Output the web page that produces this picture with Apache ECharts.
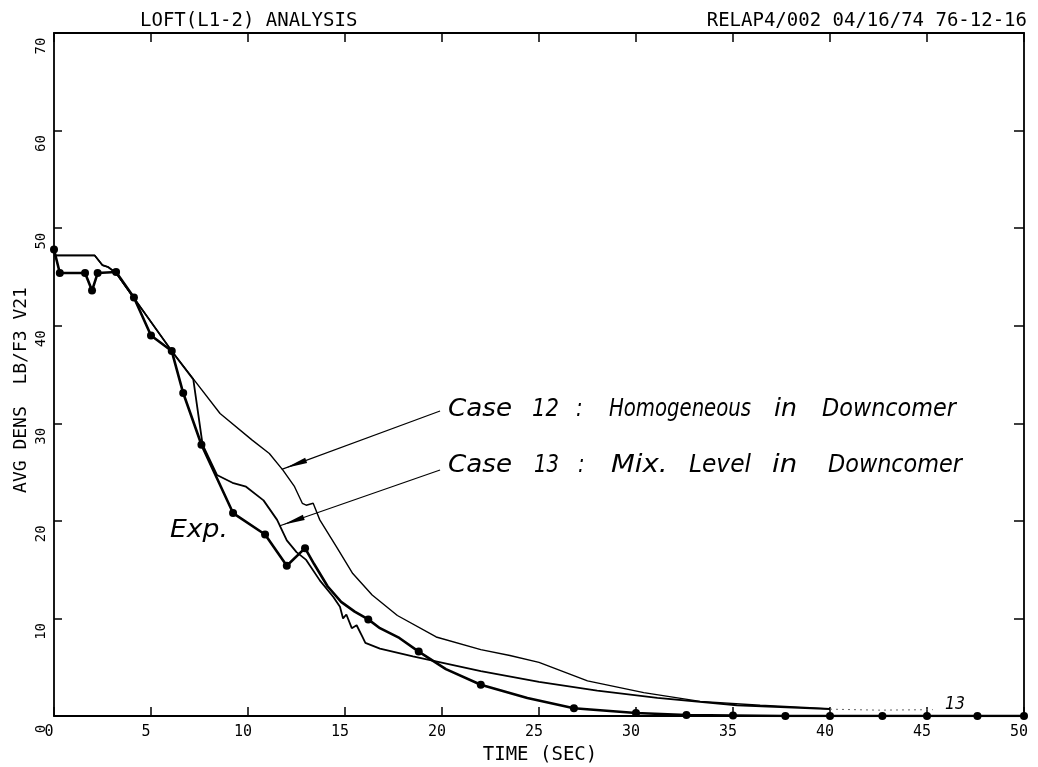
<!DOCTYPE html>
<html><head><meta charset="utf-8">
<script src="https://cdn.jsdelivr.net/npm/echarts@6/dist/echarts.min.js"></script>
<style>html,body{margin:0;padding:0;background:#fff}#c{width:1038px;height:767px}</style>
</head><body><div id="c"></div>
<script>
// ---------------- data ----------------
const xTickLabels = ['0','5','10','15','20','25','30','35','40','45','50'];
const yTickLabels = ['0','10','20','30','40','50','60','70'];

const expTime = [0, 0.3, 1.6, 1.96, 2.25, 3.2, 4.12, 5.0, 6.07, 6.66, 7.6, 9.23, 10.88, 12.0, 12.94, 13.4, 14.1, 14.8, 15.5, 16.2, 16.8, 17.8, 18.8, 20.2, 22.0, 24.4, 26.8, 30.0, 32.6, 35.0, 37.7, 40.0, 42.7, 45.0, 47.6, 50.0];
const expDens = [47.8, 45.4, 45.4, 43.6, 45.4, 45.5, 42.9, 39.0, 37.4, 33.1, 27.8, 20.8, 18.6, 15.4, 17.2, 15.6, 13.3, 11.7, 10.7, 9.9, 9.0, 8.0, 6.6, 4.8, 3.2, 1.85, 0.8, 0.3, 0.1, 0.05, 0, 0, 0, 0, 0, 0];
const expMarked = [1,1,1,1,1,1,1,1,1,1,1,1,1,1,1,0,0,0,0,1,0,0,1,0,1,0,1,1,1,1,1,1,1,1,1,1];

const case12Time = [0, 2.1, 2.5, 2.8, 3.2, 6.07, 7.2, 8.56, 10.2, 11.1, 11.8, 12.4, 12.8, 13.0, 13.36, 13.7, 14.57, 15.4, 16.4, 17.7, 19.7, 22.0, 23.5, 25.0, 27.5, 30.4, 33.3, 36.4, 40.0];
const case12Dens = [47.2, 47.2, 46.2, 46.0, 45.4, 37.4, 34.5, 31.0, 28.3, 26.9, 25.2, 23.5, 21.8, 21.6, 21.8, 20.1, 17.3, 14.6, 12.4, 10.3, 8.1, 6.8, 6.2, 5.5, 3.6, 2.4, 1.5, 1.1, 0.75];

const case13Time = [0, 2.1, 2.5, 2.8, 3.2, 6.07, 7.18, 7.66, 8.4, 9.2, 9.9, 10.8, 11.5, 12.0, 12.5, 13.0, 13.7, 14.4, 14.74, 14.9, 15.07, 15.35, 15.6, 15.9, 16.05, 16.8, 18.5, 22.0, 25.0, 28.0, 31.1, 35.2, 40.0];
const case13Dens = [47.2, 47.2, 46.2, 46.0, 45.4, 37.4, 34.5, 27.8, 24.7, 23.9, 23.5, 22.1, 20.1, 18.0, 16.8, 16.0, 13.9, 12.2, 11.2, 10.0, 10.4, 9.0, 9.3, 8.1, 7.5, 6.9, 6.1, 4.6, 3.5, 2.6, 1.85, 1.1, 0.7];

const case13TailTime = [40.0, 42.5, 45.3];
const case13TailDens = [0.7, 0.6, 0.65];

// annotation arrows (data coordinates): [fromTime, fromDens, toTime, toDens]
const arrow12 = [19.9, 31.26, 11.74, 25.28];
const arrow13 = [19.9, 25.21, 11.61, 19.47];

// ---------------- chart ----------------
const zip = (a, b) => a.map((v, i) => [v, b[i]]);

const measureCtx = document.createElement('canvas').getContext('2d');
function word(text, x0, x1, yMid, size) {
  measureCtx.font = 'italic ' + size + 'px "DejaVu Sans"';
  const w = measureCtx.measureText(text).width || 1;
  const s = Math.max(0.82, Math.min(1.15, (x1 - x0) / w));
  return {
    type: 'text', x: x0, y: yMid, scaleX: s, silent: true,
    style: { text: text, fontFamily: 'DejaVu Sans', fontStyle: 'italic', fontSize: size,
             fill: '#000', align: 'left', verticalAlign: 'middle' }
  };
}

const annoWords = [
  ['Case', 448, 512, 410], ['12', 532, 559, 410], [':', 576, 582, 410],
  ['Homogeneous', 609, 745, 410], ['in', 774, 797, 410], ['Downcomer', 822, 956, 410],
  ['Case', 448, 512, 466], ['13', 534, 559, 466], [':', 578, 584, 466],
  ['Mix.', 611, 679, 466], ['Level', 689, 751, 466], ['in', 772, 799, 466], ['Downcomer', 828, 962, 466],
  ['Exp.', 170, 228, 531]
];

const graphics = [
  { type: 'text', x: 140, y: 21, silent: true,
    style: { text: 'LOFT(L1-2) ANALYSIS', fontFamily: 'DejaVu Sans Mono', fontSize: 19, fill: '#000', align: 'left', verticalAlign: 'middle' } },
  { type: 'text', x: 1027, y: 21, silent: true,
    style: { text: 'RELAP4/002 04/16/74 76-12-16', fontFamily: 'DejaVu Sans Mono', fontSize: 19, fill: '#000', align: 'right', verticalAlign: 'middle' } },
  { type: 'text', x: 21, y: 390, rotation: Math.PI / 2, silent: true,
    style: { text: 'AVG DENS  LB/F3 V21', fontFamily: 'DejaVu Sans Mono', fontSize: 18, fill: '#000', align: 'center', verticalAlign: 'middle' } },
  { type: 'text', x: 540, y: 755, silent: true,
    style: { text: 'TIME (SEC)', fontFamily: 'DejaVu Sans Mono', fontSize: 19, fill: '#000', align: 'center', verticalAlign: 'middle' } },
  word('13', 945, 965, 704, 18)
].concat(annoWords.map(w => word(w[0], w[1], w[2], w[3], 24)));

const axisCommon = {
  type: 'value', min: 0, splitLine: { show: false },
  axisLine: { show: true, onZero: false, lineStyle: { color: '#000', width: 1.8 } },
  axisTick: { show: true, inside: true, length: 9, lineStyle: { color: '#000', width: 1.5 } }
};

const arrowLine = (a) => ({
  silent: true, symbol: ['none', 'none'],
  label: { show: false }, lineStyle: { color: '#000', width: 1.2, type: 'solid' },
  emphasis: { disabled: true },
  data: [[{ coord: [a[0], a[1]] }, { coord: [a[2], a[3]] }]]
});

const option = {
  animation: false,
  backgroundColor: '#fff',
  grid: { left: 54, right: 14, top: 33, bottom: 51 },
  xAxis: [
    Object.assign({}, axisCommon, { position: 'bottom', max: 50, interval: 5,
      axisLabel: { show: true, margin: 9, color: '#000', fontFamily: 'DejaVu Sans Mono', fontSize: 15,
        padding: [0, 10, 0, 0], formatter: v => xTickLabels[Math.round(v / 5)] } }),
    Object.assign({}, axisCommon, { position: 'top', max: 50, interval: 5, axisLabel: { show: false } })
  ],
  yAxis: [
    Object.assign({}, axisCommon, { position: 'left', max: 70, interval: 10,
      axisTick: { show: true, inside: true, length: 8, lineStyle: { color: '#000', width: 1.5 } },
      axisLabel: { show: true, rotate: 90, margin: 13, color: '#000', fontFamily: 'DejaVu Sans Mono', fontSize: 14,
        align: 'center', verticalAlign: 'middle', padding: [0, 26, 0, 0],
        formatter: v => yTickLabels[Math.round(v / 10)] } }),
    Object.assign({}, axisCommon, { position: 'right', max: 70, interval: 10,
      axisTick: { show: true, inside: true, length: 10, lineStyle: { color: '#000', width: 1.5 } },
      axisLabel: { show: false } })
  ],
  series: [
    { name: 'Case 12', type: 'line', data: zip(case12Time, case12Dens), showSymbol: false,
      lineStyle: { color: '#000', width: 1.4 }, itemStyle: { color: '#000' }, z: 3,
      markLine: arrowLine(arrow12) },
    { name: 'Case 13', type: 'line', data: zip(case13Time, case13Dens), showSymbol: false,
      lineStyle: { color: '#000', width: 1.8 }, itemStyle: { color: '#000' }, z: 3,
      markLine: arrowLine(arrow13) },
    { name: 'Case 13 tail', type: 'line', data: zip(case13TailTime, case13TailDens), showSymbol: false,
      lineStyle: { color: '#666', width: 1, type: [2, 4] }, z: 2 },
    { name: 'Exp', type: 'line',
      data: expTime.map((t, i) => ({ value: [t, expDens[i]], symbol: expMarked[i] ? 'circle' : 'none' })),
      showSymbol: true, symbolSize: 8, showAllSymbol: true,
      lineStyle: { color: '#000', width: 2.6 }, itemStyle: { color: '#000' }, z: 4 }
  ],
  graphic: graphics
};

const chart = echarts.init(document.getElementById('c'), null, { renderer: 'canvas' });
chart.setOption(option);

// arrowheads: narrow filled triangles whose tip sits at the arrow's end, placed through the chart's scales
function arrowHead(a) {
  const p0 = chart.convertToPixel({ gridIndex: 0 }, [a[0], a[1]]);
  const p1 = chart.convertToPixel({ gridIndex: 0 }, [a[2], a[3]]);
  const dx = p0[0] - p1[0], dy = p0[1] - p1[1];
  const L = Math.sqrt(dx * dx + dy * dy);
  const ux = dx / L, uy = dy / L, nx = -uy, ny = ux;
  const back = 4, len = 22, half = 2.8;
  const tip = [p1[0] + ux * back, p1[1] + uy * back];
  const base = [tip[0] + ux * len, tip[1] + uy * len];
  return { type: 'polygon', silent: true, z: 10,
    shape: { points: [tip, [base[0] + nx * half, base[1] + ny * half], [base[0] - nx * half, base[1] - ny * half]] },
    style: { fill: '#000' } };
}
chart.setOption({ graphic: graphics.concat([arrowHead(arrow12), arrowHead(arrow13)]) });
</script>
</body></html>
